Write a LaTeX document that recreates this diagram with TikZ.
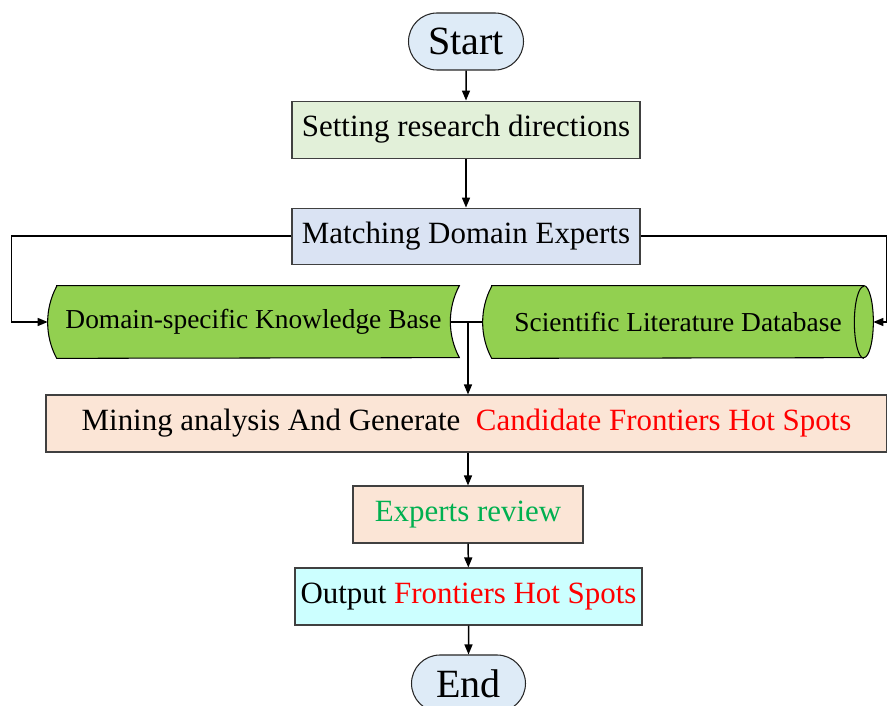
\documentclass[tikz,border=0pt]{standalone}
\usepackage{xcolor}
\usepackage{fontspec}
\setmainfont{Liberation Serif}
\usepackage{tikz}
\usetikzlibrary{shapes.misc, arrows.meta, positioning, calc, backgrounds}
\definecolor{termblue}{RGB}{222, 235, 247}
\definecolor{setgreen}{RGB}{226, 240, 217}
\definecolor{matchblue}{RGB}{218, 227, 243}
\definecolor{datagreen}{RGB}{146, 208, 80}
\definecolor{minepeach}{RGB}{251, 229, 214}
\definecolor{outcyan}{RGB}{204, 255, 255}
\definecolor{reviewgreen}{RGB}{0, 176, 80}

\begin{document}
\begin{tikzpicture}[
    every node/.style={font=\fontsize{17.6}{20}\selectfont},
    terminal/.style={
        rounded rectangle,
        draw=black!85,
        line width=0.6pt,
        fill=termblue,
        minimum width=2.44cm,
        minimum height=1.14cm,
        inner sep=2pt,
        font=\fontsize{22.8}{26}\selectfont
    },
    process/.style={
        rectangle,
        draw=black!75,
        line width=0.6pt,
        minimum height=1.14cm,
        inner sep=2pt,
        text centered
    },
    datanode/.style={
        rectangle,
        draw=none,
        minimum height=1.44cm,
        inner sep=0pt,
        font=\fontsize{15.6}{18}\selectfont
    },
    datashape/.style={
        draw=black,
        line width=0.6pt,
        fill=datagreen
    },
    side/.style={radius=1.53cm},
    arrow/.style={
        line width=0.85pt,
        -{Triangle[length=0.2cm, width=0.16cm]},
        draw=black
    },
    line/.style={
        line width=0.85pt,
        draw=black
    }
]
\useasboundingbox (0,0) rectangle (17.74,-14.12);

% ==================== TOP: START & PREPARATION ====================
\node (start) [terminal] at (9.32, -0.83) {Start};
\node (set_dir) [process, fill=setgreen, minimum width=6.96cm, below=0.6cm of start] {Setting research directions};
\node (match_exp) [process, fill=matchblue, minimum width=6.96cm, minimum height=1.12cm, below=0.98cm of set_dir] {Matching Domain Experts};

% ==================== MIDDLE: DATA SOURCES ====================
\node (know_base) [datanode, minimum width=8.22cm] at (5.07, -6.44) {Domain-specific Knowledge Base};
\node (lit_db) [datanode, minimum width=7.8cm] at (13.56, -6.44) {Scientific Literature Database};

\begin{scope}[on background layer]
% stored data shape
\path [datashape] ([xshift=0.18cm]know_base.north west) -- (know_base.north east)
    arc[side, start angle=151.93, end angle=208.07]
    -- ([xshift=0.18cm]know_base.south west)
    arc[side, start angle=208.07, end angle=151.93] -- cycle;
% cylinder shape
\path [datashape] ([xshift=0.18cm]lit_db.north west) -- ([xshift=-0.19cm]lit_db.north east)
    arc[start angle=90, end angle=-90, x radius=0.19cm, y radius=0.72cm]
    -- ([xshift=0.18cm]lit_db.south west)
    arc[side, start angle=208.07, end angle=151.93] -- cycle;
\draw [line width=0.6pt] ([xshift=-0.19cm]lit_db.south east)
    arc[start angle=270, end angle=90, x radius=0.19cm, y radius=0.72cm];
\end{scope}

% ==================== BOTTOM: ANALYSIS & OUTPUT ====================
\node (mine_gen) [process, fill=minepeach, minimum width=16.82cm] at (9.33, -8.47) {Mining analysis And Generate\ \ \textcolor{red}{Candidate Frontiers Hot Spots}};
\node (exp_review) [process, fill=minepeach, minimum width=4.6cm] at (9.36, -10.29) {\textcolor{reviewgreen}{Experts review}};
\node (output_hot) [process, fill=outcyan, minimum width=6.94cm] at (9.37, -11.93) {Output \textcolor{red}{Frontiers Hot Spots}};
\node (end) [terminal, minimum width=2.42cm] at (9.37, -13.67) {End};

% ==================== CONNECTIONS ====================
\draw [arrow] (start) -- (set_dir);
\draw [arrow] (set_dir) -- (match_exp);

% Experts to both data sources
\draw [arrow] (match_exp.west) -- ++(-5.6,0) |- (know_base.west);
\draw [arrow] (match_exp.east) -- ++(4.92,0) |- (lit_db.east);

% Data sources merge into mining
\draw [line] ([xshift=-0.18cm]know_base.east) -- (lit_db.west);
\coordinate (merge) at (9.36, -6.44);
\draw [arrow] (merge) -- (merge |- mine_gen.north);

% Review and output
\draw [arrow] (mine_gen.south -| exp_review.north) -- (exp_review);
\draw [arrow] (exp_review) -- (output_hot);
\draw [arrow] (output_hot) -- (end);

\end{tikzpicture}
\end{document}
